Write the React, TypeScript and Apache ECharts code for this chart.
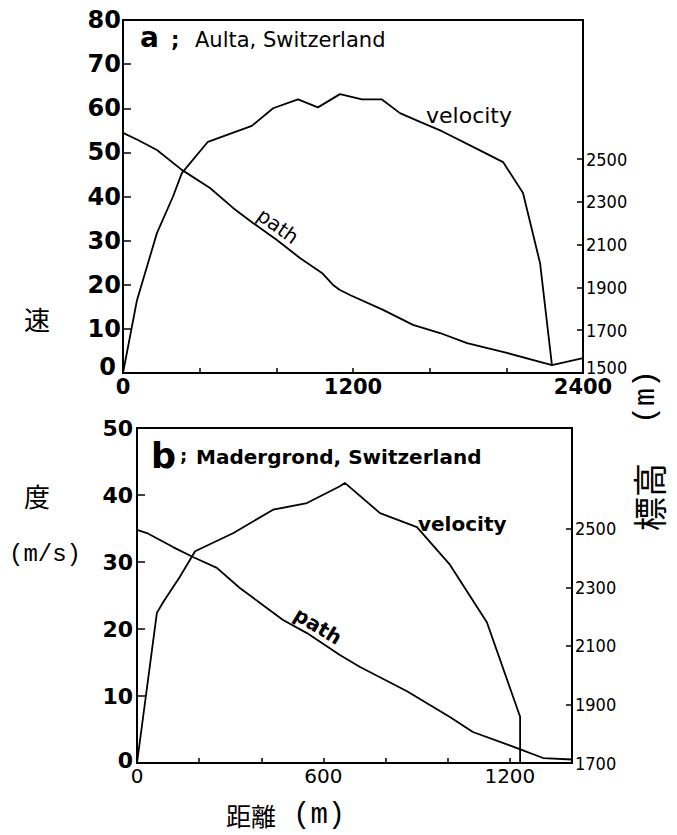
import React, { useEffect, useRef } from "react";
import * as echarts from "echarts";

// ---- Panel a: Aulta, Switzerland ----
const aVelDist = [0, 73, 177, 261, 307, 443, 672, 783, 913, 1017, 1132, 1247, 1351, 1445, 1550, 1664, 1847, 1983, 2087, 2176, 2238];
const aVel = [0, 16.5, 31.7, 40, 45.3, 52.4, 56, 60, 62, 60.2, 63.2, 62, 62, 58.9, 56.9, 54.8, 50.8, 47.8, 40.8, 24.9, 1.8];
const aPathDist = [0, 78, 177, 307, 454, 574, 678, 803, 923, 1038, 1096, 1132, 1184, 1357, 1513, 1654, 1795, 2003, 2238, 2400];
const aPathElev = [2623, 2590, 2543, 2450, 2365, 2272, 2202, 2122, 2038, 1968, 1912, 1888, 1865, 1795, 1725, 1687, 1640, 1594, 1537, 1570];

// ---- Panel b: Madergrond, Switzerland ----
const bVelDist = [0, 64, 84, 138, 187, 309, 438, 547, 653, 669, 782, 901, 1007, 1126, 1233, 1233];
const bVel = [0, 22.4, 24, 27.8, 31.6, 34.3, 37.8, 38.8, 41.3, 41.8, 37.3, 35.2, 29.6, 21, 6.9, 0];
const bPathDist = [0, 32, 116, 180, 257, 331, 396, 470, 547, 653, 718, 869, 1007, 1081, 1223, 1307, 1400];
const bPathElev = [2497, 2486, 2438, 2404, 2367, 2298, 2247, 2189, 2144, 2069, 2028, 1945, 1857, 1806, 1751, 1717, 1712];

// ---- Ticks / labels ----
const aXTicks = [0, 400, 800, 1200, 1600, 2000, 2400];
const aXLabels = [0, 1200, 2400];
const aElevTicks = [1500, 1700, 1900, 2100, 2300, 2500];
const bXTicks = [0, 200, 400, 600, 800, 1000, 1200, 1400];
const bXLabels = [0, 600, 1200];
const bElevTicks = [1700, 1900, 2100, 2300, 2500];

const pairs = (xs: number[], ys: number[]) => xs.map((x, i) => [x, ys[i]]);

const SANS = '"DejaVu Sans", "Liberation Sans", sans-serif';
const COND = '"DejaVu Sans Condensed", "DejaVu Sans", sans-serif';
const MONO = '"Liberation Mono", "DejaVu Sans Mono", monospace';
const CJK = '"Noto Sans CJK JP", "Noto Sans CJK SC", sans-serif';

function xAxisCfg(gridIndex: number, max: number, ticks: number[], labels: number[], font: any) {
  return {
    type: "value",
    gridIndex,
    min: 0,
    max,
    axisLine: { show: true, onZero: false, lineStyle: { color: "#000", width: 2 } },
    axisTick: { show: true, inside: true, length: 5, customValues: ticks, lineStyle: { color: "#000", width: 1.5 } },
    axisLabel: { show: true, customValues: labels, color: "#000", margin: 3, formatter: (v: number) => String(v), ...font },
    splitLine: { show: false },
  };
}

function leftAxisCfg(gridIndex: number, max: number, font: any, lift: number, margin: number, zeroShift: number) {
  return {
    type: "value",
    gridIndex,
    position: "left",
    min: 0,
    max,
    interval: 10,
    axisLine: { show: true, onZero: false, lineStyle: { color: "#000", width: 2 } },
    axisTick: { show: true, inside: true, length: 8, lineStyle: { color: "#000", width: 1.5 } },
    axisLabel: {
      show: true,
      color: "#000",
      margin,
      ...font,
      formatter: (v: number) => (v === 0 ? "{lo|0}" : String(v)),
      rich: { lo: { ...font, color: "#000", padding: [0, zeroShift, lift, 0] } },
    },
    splitLine: { show: false },
  };
}

function rightAxisCfg(gridIndex: number, min: number, max: number, ticks: number[], lift: number) {
  const font = { fontFamily: COND, fontSize: 18 };
  return {
    type: "value",
    gridIndex,
    position: "right",
    min,
    max,
    axisLine: { show: true, onZero: false, lineStyle: { color: "#000", width: 2 } },
    axisTick: { show: true, inside: true, length: 6, customValues: ticks, lineStyle: { color: "#000", width: 1.5 } },
    axisLabel: {
      show: true,
      customValues: ticks,
      color: "#000",
      margin: 3,
      ...font,
      formatter: (v: number) => (v === min ? `{lo|${v}}` : String(v)),
      rich: { lo: { ...font, color: "#000", padding: [0, 0, lift, 0] } },
    },
    splitLine: { show: false },
  };
}

function lineSeries(x: number, y: number, data: number[][]) {
  return {
    type: "line",
    xAxisIndex: x,
    yAxisIndex: y,
    data,
    symbol: "none",
    smooth: false,
    lineStyle: { color: "#000", width: 1.8 },
    silent: true,
  };
}

function txt(text: string, x: number, y: number, font: any, opts: any = {}) {
  return {
    type: "text",
    x,
    y,
    rotation: opts.rotation || 0,
    style: {
      text,
      fill: "#000",
      ...font,
      align: opts.align || "left",
      verticalAlign: "middle",
      textAlign: opts.align || "left",
      textVerticalAlign: "middle",
    },
  };
}

export default function App() {
  const ref = useRef<HTMLDivElement>(null);
  useEffect(() => {
    if (!ref.current) return;
    const chart = echarts.init(ref.current, null, { renderer: "svg" });
    const option: any = {
      animation: false,
      backgroundColor: "#fff",
      grid: [
        { left: 123, top: 20, width: 460, height: 353, show: true, borderColor: "#000", borderWidth: 2, outerBoundsMode: "none", containLabel: false },
        { left: 137, top: 428, width: 435, height: 335, show: true, borderColor: "#000", borderWidth: 2, outerBoundsMode: "none", containLabel: false },
      ],
      xAxis: [
        xAxisCfg(0, 2400, aXTicks, aXLabels, { fontFamily: SANS, fontWeight: "bold", fontSize: 21 }),
        xAxisCfg(1, 1400, bXTicks, bXLabels, { fontFamily: SANS, fontSize: 20 }),
      ],
      yAxis: [
        leftAxisCfg(0, 80, { fontFamily: SANS, fontWeight: "bold", fontSize: 24 }, 12, 2, 5),
        rightAxisCfg(0, 1500, 3151, aElevTicks, 12),
        leftAxisCfg(1, 50, { fontFamily: SANS, fontWeight: "bold", fontSize: 22 }, 6, 4, 0),
        rightAxisCfg(1, 1700, 2845, bElevTicks, 0),
      ],
      series: [
        lineSeries(0, 0, pairs(aVelDist, aVel)),
        lineSeries(0, 1, pairs(aPathDist, aPathElev)),
        lineSeries(1, 2, pairs(bVelDist, bVel)),
        lineSeries(1, 3, pairs(bPathDist, bPathElev)),
      ],
      graphic: [
        // panel a
        txt("a", 140, 37, { fontFamily: SANS, fontWeight: "bold", fontSize: 28 }),
        txt(";", 171, 40, { fontFamily: SANS, fontWeight: "bold", fontSize: 21 }),
        txt("Aulta, Switzerland", 195, 40, { fontFamily: SANS, fontSize: 21 }),
        txt("velocity", 426, 115, { fontFamily: SANS, fontSize: 22 }),
        txt("path", 278, 226, { fontFamily: SANS, fontSize: 20 }, { align: "center", rotation: -0.62 }),
        // panel b
        txt("b", 151, 456, { fontFamily: SANS, fontWeight: "bold", fontSize: 35 }),
        txt(";", 180, 455, { fontFamily: SANS, fontWeight: "bold", fontSize: 18 }),
        txt("Madergrond, Switzerland", 196, 457, { fontFamily: SANS, fontWeight: "bold", fontSize: 20 }),
        txt("velocity", 418, 524, { fontFamily: SANS, fontWeight: "bold", fontSize: 20 }),
        txt("path", 318, 626, { fontFamily: SANS, fontWeight: "bold", fontSize: 20 }, { align: "center", rotation: -0.55 }),
        // axis titles
        txt("速", 37, 318, { fontFamily: CJK, fontSize: 26 }, { align: "center" }),
        txt("度", 37, 495, { fontFamily: CJK, fontSize: 26 }, { align: "center" }),
        txt("(m/s)", 45, 554, { fontFamily: MONO, fontSize: 24 }, { align: "center" }),
        txt("距離", 226, 815, { fontFamily: CJK, fontSize: 25 }, { align: "left" }),
        txt("(m)", 293, 815, { fontFamily: MONO, fontSize: 29, letterSpacing: 10 }, { align: "left" }),
        txt("標高", 648, 497, { fontFamily: CJK, fontSize: 34 }, { align: "center", rotation: Math.PI / 2 }),
        txt("(m)", 646, 397, { fontFamily: MONO, fontSize: 30, letterSpacing: 8 }, { align: "center", rotation: Math.PI / 2 }),
      ],
    };
    chart.setOption(option);
    return () => chart.dispose();
  }, []);
  return <div ref={ref} style={{ position: "absolute", left: 0, top: 0, width: 677, height: 835, background: "#fff" }} />;
}
